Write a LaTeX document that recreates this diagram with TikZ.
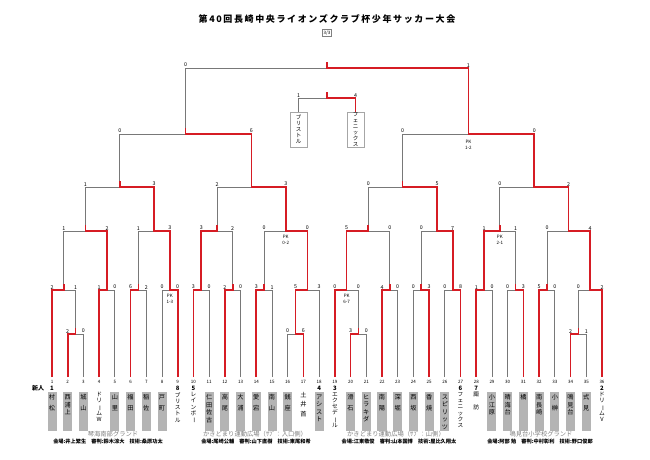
\documentclass[tikz,border=0pt]{standalone}
\usepackage{fontspec}
\setmainfont{Noto Sans CJK JP}
\newfontfamily\titlefont[LetterSpace=18]{Noto Sans CJK JP}
\usepackage{graphicx}
\usetikzlibrary{calc}
\pgfdeclarelayer{bg}
\pgfsetlayers{bg,main}
\definecolor{winred}{RGB}{214,28,36}
\definecolor{linegray}{RGB}{120,120,120}
\definecolor{boxgray}{RGB}{180,180,180}
\tikzset{
  win/.style={winred,line width=1.6pt},
  lose/.style={linegray,line width=0.8pt},
  score/.style={font=\fontsize{5.3}{5.3}\selectfont,anchor=south,inner sep=0.8pt},
  pk/.style={font=\fontsize{4.5}{6}\selectfont,align=center,anchor=north,inner sep=0.5pt},
  num/.style={font=\fontsize{4.5}{5}\selectfont,inner sep=0pt},
  tbox/.style={fill=boxgray,minimum width=9pt,minimum height=39pt,inner sep=0pt,anchor=north},
  tname/.style={font=\fontsize{6.2}{7.5}\selectfont,align=center,inner sep=0pt,anchor=north},
  longname/.style={font=\fontsize{5.7}{6.3}\selectfont,align=center,inner sep=0pt,anchor=north},
  seed/.style={font=\bfseries\fontsize{6}{6}\selectfont,inner sep=0pt},
  tpbox/.style={draw=black!35,fill=white,minimum width=17pt,minimum height=35pt,inner sep=0pt,anchor=north,
    font=\fontsize{5.5}{6}\selectfont,align=center},
  venue/.style={font=\fontsize{6.3}{7}\selectfont,text=black!50,inner sep=0pt},
  staff/.style={font=\bfseries\fontsize{5.2}{6}\selectfont,inner sep=0pt},
}
\newcommand{\vb}{\rotatebox[origin=c]{-90}{ー}}
% one match: name, left, right, y, winner (L/R), left score, right score
\newcommand{\match}[7]{%
  \path (#2) -- (#3) coordinate[pos=.5] (#1m);
  \coordinate (#1) at (#1m |- 0,#4);
  \coordinate (#1l) at (#2 |- #1);
  \coordinate (#1r) at (#3 |- #1);
  \node[score] at (#1l) {#6};
  \node[score] at (#1r) {#7};
  \if#5L
    \begin{pgfonlayer}{bg}\draw[lose] (#3) -- (#1r) -- (#1);\end{pgfonlayer}
    \draw[win] (#2) -- (#1l) -- (#1) -- ++(0,-6);
  \else
    \begin{pgfonlayer}{bg}\draw[lose] (#2) -- (#1l) -- (#1);\end{pgfonlayer}
    \draw[win] (#3) -- (#1r) -- (#1) -- ++(0,-6);
  \fi}
\newcommand{\team}[2]{\node[tbox] (b#1) at (t#1 |- 0,392) {};
  \node[tname] (n#1) at ($(b#1.north)+(0,2.5)$) {#2};}
\newcommand{\seedteam}[3]{\node[seed] (s#1) at (t#1 |- 0,388.5) {#2};
  \node[longname] (n#1) at (t#1 |- 0,392) {#3};}

\begin{document}
\begin{tikzpicture}[x=1pt,y=-1pt]
\useasboundingbox (0,0) rectangle (650,459);

% title
\node[font=\titlefont\bfseries\fontsize{9}{10}\selectfont] (title) at (327,19) {第40回長崎中央ライオンズクラブ杯少年サッカー大会};
\node[draw=black!50,font=\fontsize{4.5}{5}\selectfont,inner sep=1.2pt] (page) at (327,33) {3/3};

% columns
\foreach \i in {1,...,36}{
  \coordinate (t\i) at ({52+(\i-1)*15.714},377);
  \node[num] (c\i) at (t\i |- 0,381.5) {\i};
}

% first side
\match{p1}{t2}{t3}{334}{L}{2}{0}
\match{mA}{t1}{p1}{290}{L}{2}{1}
\match{mB}{t4}{t5}{290}{L}{1}{0}
\match{mC}{t6}{t7}{290}{L}{6}{2}
\match{mD}{t8}{t9}{290}{R}{0}{0}
\match{q1}{mA}{mB}{231}{R}{1}{2}
\match{q2}{mC}{mD}{231}{R}{1}{3}
\match{r1}{q1}{q2}{187}{R}{1}{3}
\match{mE}{t10}{t11}{290}{L}{3}{0}
\match{mF}{t12}{t13}{290}{L}{2}{0}
\match{q3}{mE}{mF}{231}{L}{3}{2}
\match{mG}{t14}{t15}{290}{L}{3}{1}
\match{p2}{t16}{t17}{334}{R}{0}{6}
\match{mH}{p2}{t18}{290}{L}{5}{3}
\match{q4}{mG}{mH}{231}{R}{0}{0}
\match{r2}{q3}{q4}{187}{R}{2}{3}
\match{s1}{r1}{r2}{134}{R}{0}{6}

% second side
\match{p3}{t20}{t21}{334}{L}{3}{0}
\match{mI}{t19}{p3}{290}{L}{0}{0}
\match{mJ}{t22}{t23}{290}{L}{4}{0}
\match{q5}{mI}{mJ}{231}{L}{5}{0}
\match{mK}{t24}{t25}{290}{R}{0}{3}
\match{mL}{t26}{t27}{290}{R}{0}{8}
\match{q6}{mK}{mL}{231}{R}{0}{7}
\match{r3}{q5}{q6}{187}{R}{0}{5}
\match{mM}{t28}{t29}{290}{L}{1}{0}
\match{mN}{t30}{t31}{290}{R}{0}{3}
\match{q7}{mM}{mN}{231}{L}{1}{1}
\match{mO}{t32}{t33}{290}{L}{5}{0}
\match{p4}{t34}{t35}{334}{L}{2}{1}
\match{mP}{p4}{t36}{290}{R}{0}{2}
\match{q8}{mO}{mP}{231}{R}{0}{4}
\match{r4}{q7}{q8}{187}{R}{0}{2}
\match{s2}{r3}{r4}{134}{R}{0}{0}

% final and third place
\match{fin}{s1}{s2}{68}{R}{0}{1}
\node[tpbox] (tp1) at (298.5,112) {ブ\\リ\\ス\\ト\\ル};
\node[tpbox] (tp2) at (355.5,112) {フ\\ェ\\ニ\\ッ\\ク\\ス};
\match{tp}{tp1.north}{tp2.north}{98}{R}{1}{4}

% PK
\node[pk] (pkD) at ($(mD)+(0,3)$) {PK\\1-3};
\node[pk] (pk4) at ($(q4)+(0,3)$) {PK\\0-2};
\node[pk] (pkI) at ($(mI)+(0,3)$) {PK\\6-7};
\node[pk] (pk7) at ($(q7)+(0,3)$) {PK\\2-1};
\node[pk] (pkS) at ($(s2)+(0,5)$) {PK\\1-2};

% teams
\node[seed] (shin) at (38,388.5) {新人};
\node[seed] (s1x) at (t1 |- 0,388.5) {1};
\team{1}{村\\[3.5pt]松}
\team{2}{西\\浦\\上}
\team{3}{城\\[3.5pt]山}
\node[longname] (n4) at (t4 |- 0,392) {ド\\リ\\\vb\\ム\\W};
\team{5}{山\\[3.5pt]里}
\team{6}{福\\[3.5pt]田}
\team{7}{稲\\[3.5pt]佐}
\team{8}{戸\\[3.5pt]町}
\seedteam{9}{8}{ブ\\リ\\ス\\ト\\ル}
\seedteam{10}{5}{レ\\イ\\ン\\ボ\\\vb}
\team{11}{仁\\田\\佐\\古}
\team{12}{高\\[3.5pt]尾}
\team{13}{大\\[3.5pt]浦}
\team{14}{愛\\[3.5pt]宕}
\team{15}{南\\[3.5pt]山}
\team{16}{銭\\[3.5pt]座}
\node[tname] (n17) at (t17 |- 0,392) {土\\[2pt]井\\[2pt]首};
\node[seed] (s18) at (t18 |- 0,388.5) {4};
\team{18}{ア\\シ\\ス\\ト}
\seedteam{19}{3}{エ\\ク\\セ\\デ\\\vb\\ル}
\team{20}{滑\\[3.5pt]石}
\team{21}{ヒ\\ラ\\キ\\ダ}
\team{22}{南\\[3.5pt]陽}
\team{23}{深\\[3.5pt]堀}
\team{24}{西\\[3.5pt]坂}
\team{25}{香\\[3.5pt]焼}
\team{26}{ス\\ピ\\リ\\ッ\\ツ}
\seedteam{27}{6}{フ\\ェ\\ニ\\ッ\\ク\\ス}
\seedteam{28}{7}{諏\\[6pt]訪}
\team{29}{小\\江\\原}
\team{30}{晴\\海\\台}
\team{31}{橘}
\team{32}{南\\長\\崎}
\team{33}{小\\[3.5pt]榊}
\team{34}{鳴\\見\\台}
\team{35}{式\\[3.5pt]見}
\seedteam{36}{2}{ド\\リ\\\vb\\ム\\V}

% venues
\node[venue] (v1) at (113,434) {琴海南部グランド};
\node[staff] (st1) at (108,442) {会場:井上繁生\quad 審判:鈴木涼大\quad 技術:桑原功太};
\node[venue] (v2) at (255,434) {かきどまり運動広場（ｻﾌﾞ：入口側）};
\node[staff] (st2) at (256,442) {会場:尾崎公輔\quad 審判:山下直樹\quad 技術:東尾和希};
\node[venue] (v3) at (396,434) {かきどまり運動広場（ｻﾌﾞ：山側）};
\node[staff] (st3) at (399,442) {会場:江東敬俊\quad 審判:山本国博\quad 技術:屋比久翔太};
\node[venue] (v4) at (541,434) {鳴見台小学校グランド};
\node[staff] (st4) at (540,442) {会場:阿部\ 勉\quad 審判:中村彰利\quad 技術:野口俊郎};
\end{tikzpicture}
\end{document}
